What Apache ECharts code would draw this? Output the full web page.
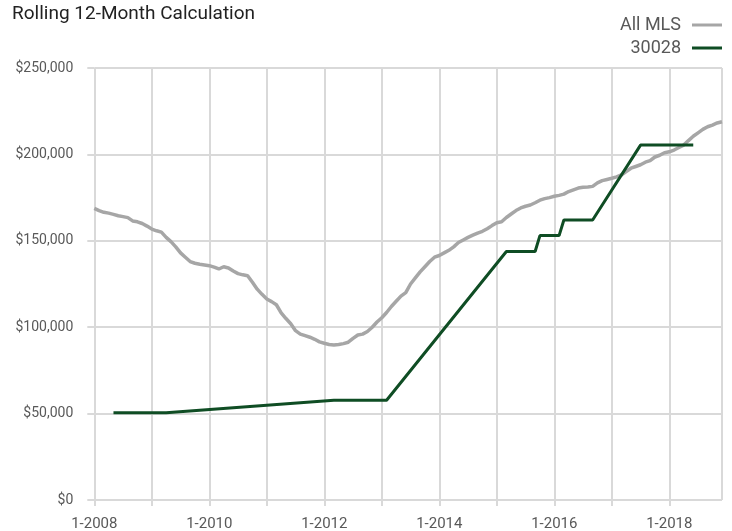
<!DOCTYPE html>
<html>
<head>
<meta charset="utf-8">
<script src="https://cdn.jsdelivr.net/npm/echarts@6/dist/echarts.min.js"></script>
<style>
  html, body { margin: 0; padding: 0; background: #ffffff; }
  #chart { width: 732px; height: 531px; }
</style>
</head>
<body>
<div id="chart"></div>
<script>
// Months from 1-2008 through 12-2018
const years = [2008, 2009, 2010, 2011, 2012, 2013, 2014, 2015, 2016, 2017, 2018];
const monthNumbers = [1, 2, 3, 4, 5, 6, 7, 8, 9, 10, 11, 12];

// All MLS rolling 12-month value, one per month
const allMLS = [
  168800, 167500, 166500, 166000, 165300, 164500, 164000, 163400, 161500, 161000, 160000, 158500,
  156800, 155800, 155000, 152000, 149500, 146500, 143000, 140500, 138000, 137000, 136400, 136000,
  135600, 134800, 133700, 135000, 134300, 132500, 131000, 130300, 129800, 126000, 122000, 119000,
  116300, 114800, 113000, 108300, 105000, 102000, 98000, 96000, 95100, 94200, 93000, 91500,
  90700, 90000, 89700, 90000, 90500, 91300, 93500, 95500, 96000, 97500, 100000, 103000,
  105500, 108500, 112000, 115000, 118000, 120000, 125000, 128500, 132000, 135000, 138000, 140500,
  141500, 143000, 144500, 146500, 149000, 150500, 152000, 153300, 154500, 155500, 157000, 158800,
  160500, 161000, 163500, 165500, 167500, 169000, 170000, 170700, 172000, 173500, 174400, 175000,
  175800, 176300, 177000, 178500, 179500, 180500, 181000, 181200, 181500, 183500, 184800, 185500,
  186200, 187000, 188100, 190000, 192000, 193000, 194000, 195500, 196400, 198500, 199500, 201000,
  201500, 202500, 204000, 205400, 208000, 210500, 212500, 214500, 216000, 217000, 218200, 218900
];

// 30028 rolling 12-month value at the months where it is reported
const zipMonths = ['5-2008', '4-2009', '3-2012', '2-2013', '3-2015', '9-2015', '10-2015', '2-2016', '3-2016', '9-2016', '7-2017', '6-2018'];
const zipValues = [50500, 50500, 57700, 57700, 143800, 143800, 153000, 153000, 162000, 162000, 205400, 205400];

const yTicks = [0, 50000, 100000, 150000, 200000, 250000];

const categories = [];
years.forEach(y => monthNumbers.forEach(m => categories.push(m + '-' + y)));
const zipData = zipMonths.map((c, i) => [c, zipValues[i]]);

const chart = echarts.init(document.getElementById('chart'));
const gridColor = '#d9d9d9';
chart.setOption({
  animation: false,
  backgroundColor: '#ffffff',
  textStyle: { fontFamily: 'Roboto' },
  title: {
    text: 'Rolling 12-Month Calculation',
    left: 7, top: 0,
    textStyle: { fontFamily: 'Roboto', fontSize: 19, fontWeight: 'normal', color: '#222222' }
  },
  legend: {
    orient: 'vertical',
    right: 5, top: 11,
    align: 'right',
    itemWidth: 30, itemHeight: 3, itemGap: 5,
    icon: 'rect',
    formatter: (name) => '{t|' + name + '}',
    textStyle: {
      fontFamily: 'Roboto', fontSize: 18, color: '#595959', lineHeight: 18,
      rich: { t: { fontFamily: 'Roboto', fontSize: 18, color: '#595959', lineHeight: 18, padding: [0, 6, 0, 0] } }
    },
    data: ['All MLS', '30028']
  },
  grid: { left: 94.3, right: 10, top: 68, bottom: 31, containLabel: false, outerBoundsMode: 'none' },
  xAxis: {
    type: 'category',
    data: categories,
    boundaryGap: false,
    axisLine: { show: false },
    axisTick: { show: true, length: 6, interval: (i) => i % 12 === 0, lineStyle: { color: gridColor, width: 2 } },
    axisLabel: {
      interval: (i) => i % 24 === 0,
      color: '#595959', fontSize: 15, fontFamily: 'Roboto', margin: 17
    },
    splitLine: { show: true, interval: (i) => i % 12 === 0 || i === categories.length - 1, lineStyle: { color: gridColor, width: 2 } }
  },
  yAxis: {
    type: 'value',
    min: yTicks[0], max: yTicks[yTicks.length - 1], interval: 50000,
    axisLine: { show: false },
    axisTick: { show: true, length: 7, lineStyle: { color: gridColor, width: 2 } },
    axisLabel: {
      color: '#595959', fontSize: 14, fontFamily: 'Roboto', margin: 21,
      formatter: (v) => '$' + v.toLocaleString('en-US')
    },
    splitLine: { show: true, lineStyle: { color: gridColor, width: 2 } }
  },
  series: [
    {
      name: 'All MLS', type: 'line', data: allMLS, showSymbol: false, symbol: 'none',
      lineStyle: { color: '#a6a6a6', width: 3.5 }, itemStyle: { color: '#a6a6a6' }, z: 2
    },
    {
      name: '30028', type: 'line', data: zipData, showSymbol: false, symbol: 'none',
      lineStyle: { color: '#0f4d24', width: 3 }, itemStyle: { color: '#0f4d24' }, z: 3
    }
  ]
});
</script>
</body>
</html>
